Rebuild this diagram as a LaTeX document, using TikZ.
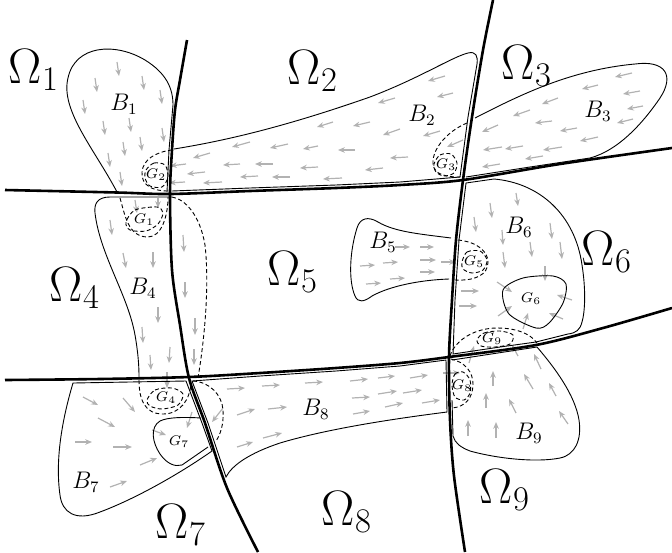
\documentclass[tikz,border=0pt]{standalone}
\usepackage{amsmath,amssymb}
\usepackage{tikz}
\usetikzlibrary{arrows.meta}

\begin{document}
\begin{tikzpicture}[x=0.5pt, y=-0.5pt,
  bnd/.style={line width=1.3pt},
  reg/.style={line width=0.45pt},
  gbd/.style={line width=0.45pt, dash pattern=on 2pt off 1.3pt},
  fld/.style={-{Stealth[length=3.4pt,width=2.8pt]}, gray!60, line width=0.6pt},
  om/.style={font=\fontsize{23}{26}\selectfont},
  bl/.style={font=\large},
  gl/.style={font=\fontsize{7}{8}\selectfont, inner sep=0pt}]
\useasboundingbox (0,0) rectangle (672,552);

% vector fields
\foreach \x/\y in {117/62, 95/78, 142/76, 160/90, 83/100, 103/121, 129/118, 162/128, 140/137, 123/142, 108/153, 120/172}
  \draw[fld] (\x,\y) -- ++(2,14);
\foreach \x/\y/\u/\v in {445/76/-17/5, 453/93/-16/4, 395/98/-17/5, 400/129/-17/6, 440/131/-17/5, 370/122/-17/4, 333/122/-16/5, 463/140/-16/7, 250/142/-18/5, 288/144/-18/4, 318/146/-15/3, 355/150/-17/0, 210/153/-17/5, 408/157/-18/1, 240/164/-17/1, 273/164/-18/0, 318/167/-18/1, 383/168/-18/2, 205/172/-18/2, 258/176/-18/1, 290/177/-18/0, 342/178/-19/1, 222/182/-19/1, 186/164/-16/2, 185/182/-16/1}
  \draw[fld] (\x,\y) -- ++(\u,\v);
\foreach \x/\y/\u/\v in {632/73/-17/4, 598/85/-16/4, 640/91/-17/3, 558/98/-16/6, 643/106/-16/3, 530/110/-17/6, 633/119/-16/4, 552/121/-17/2, 498/125/-16/7, 577/128/-17/3, 598/137/-18/4, 502/147/-19/3, 523/146/-18/3, 562/147/-19/3, 543/156/-18/3, 500/164/-18/3}
  \draw[fld] (\x,\y) -- ++(\u,\v);
\foreach \x/\y/\u/\v in {135/200/2/13, 158/198/0/10, 110/220/2/15, 183/235/1/17, 123/253/3/15, 153/252/0/16, 185/282/0/16, 158/307/0/16, 142/327/1/16, 195/318/0/17, 170/347/-1/16, 150/355/1/15, 194/349/0/16, 167/372/0/16}
  \draw[fld] (\x,\y) -- ++(\u,\v);
\foreach \x/\y/\u/\v in {395/247/15/0, 420/247/14/0, 360/266/15/-1, 383/263/15/-1, 420/260/16/0, 441/262/15/0, 366/284/15/-1, 390/279/15/-1, 420/272/15/0}
  \draw[fld] (\x,\y) -- ++(\u,\v);
\foreach \x/\y/\u/\v in {490/203/2/15, 516/193/2/13, 474/217/2/15, 502/230/1/15, 550/223/2/16, 530/242/2/15, 560/242/2/17, 503/252/2/16, 545/266/0/15, 497/282/15/10, 461/291/18/0, 459/306/18/0, 498/316/14/-10, 572/300/-15/-5, 563/319/-14/-6, 523/329/5/-16}
  \draw[fld] (\x,\y) -- ++(\u,\v);
\foreach \x/\y/\u/\v in {83/397/15/8, 123/398/12/14, 98/418/17/9, 75/442/17/0, 113/447/19/0, 140/465/17/-7, 110/487/17/-6, 152/430/14/5, 192/412/-5/16}
  \draw[fld] (\x,\y) -- ++(\u,\v);
\foreach \x/\y/\u/\v in {227/389/18/-1, 262/386/18/-1, 305/383/18/-1, 350/381/18/-2, 378/378/17/-2, 410/378/18/-3, 237/415/18/-6, 268/409/19/-2, 352/398/18/-1, 378/394/19/-3, 403/393/19/-3, 237/447/16/-5, 263/438/19/-5, 353/414/17/-3, 385/407/18/-4, 422/403/18/-3, 443/373/17/0, 223/408/-11/14}
  \draw[fld] (\x,\y) -- ++(\u,\v);
\foreach \x/\y/\u/\v in {468/436/0/-16, 496/438/0/-16, 486/408/0/-15, 493/386/0/-15, 469/363/5/-17, 518/356/-6/-11, 533/389/-9/-15, 516/413/-7/-14, 556/396/-7/-13, 568/424/-9/-13, 541/369/-7/-15}
  \draw[fld] (\x,\y) -- ++(\u,\v);

% regions B
\draw[reg] (117,192) .. controls (95,150) and (60,110) .. (68,78) .. controls (75,45) and (115,42) .. (145,60) .. controls (166,73) and (173,88) .. (173,105) -- (169,150) -- (167,192);
\draw[reg] (174,149) .. controls (230,140) and (290,125) .. (370,97) .. controls (420,78) and (452,57) .. (468,53) .. controls (476,51) and (478,56) .. (477,64) -- (468,117) -- (460,177) -- (400,182) -- (336,185) -- (250,188) -- (172,191);
\draw[reg] (475,118) .. controls (520,95) and (570,70) .. (635,64) .. controls (665,60) and (675,75) .. (660,98) .. controls (645,120) and (620,150) .. (590,158) -- (530,167) -- (466,177);
\draw[reg] (172,197) -- (110,197) .. controls (97,197) and (94,204) .. (95,213) .. controls (100,255) and (128,295) .. (135,335) .. controls (138,352) and (139,365) .. (139,377);
\draw[gbd] (172,197) .. controls (185,199) and (200,215) .. (205,245) .. controls (209,280) and (206,330) .. (198,378);
\draw[reg] (451,238) .. controls (420,234) and (395,232) .. (378,222) .. controls (368,216) and (360,218) .. (357,228) .. controls (350,250) and (348,280) .. (355,296) .. controls (358,303) and (364,302) .. (372,296) .. controls (390,286) and (420,280) .. (449,279);
\draw[reg] (466,183) -- (494,179) .. controls (540,183) and (575,215) .. (582,265) .. controls (586,290) and (585,312) .. (582,322) .. controls (580,330) and (576,333) .. (568,334) -- (536,342) -- (500,347) -- (453,354) -- (455,300) -- (459,240) -- cycle;
\draw[reg] (212,451) .. controls (185,470) and (140,497) .. (100,512) .. controls (75,522) and (62,512) .. (60,495) .. controls (55,460) and (62,420) .. (73,383) -- (186,381) -- (202,423) -- cycle;
\draw[reg] (201,418) .. controls (185,417) and (168,417) .. (160,421) .. controls (150,427) and (152,442) .. (160,454) .. controls (167,464) and (175,467) .. (182,465) -- (208,447);
\draw[reg] (447,412) .. controls (400,418) and (330,428) .. (280,443) .. controls (250,453) and (232,465) .. (226,477) -- (208,423) -- (192,381) -- (260,376) -- (336,371) -- (400,366) -- (446,360) -- cycle;
\draw[gbd] (193,381) .. controls (210,382) and (222,395) .. (223,410) .. controls (224,425) and (220,435) .. (216,441);
\draw[reg] (452,360) -- (537,347) .. controls (555,368) and (575,395) .. (579,420) .. controls (582,440) and (575,455) .. (560,458) .. controls (535,463) and (495,458) .. (470,451) .. controls (460,447) and (455,443) .. (453,436) -- (452,400);
\draw[reg] plot[smooth cycle] coordinates {(503,290) (523,278) (553,276) (566,284) (563,303) (549,323) (536,328) (509,314)};

% sets G
\draw[gbd] (120,198) .. controls (125,215) and (128,237) .. (148,237) .. controls (162,237) and (168,215) .. (168,197);
\draw[gbd] plot[smooth cycle] coordinates {(126,222) (135,210) (157,207) (163,213) (158,224) (146,231) (130,230)};
\draw[gbd] (172,150) .. controls (155,152) and (143,160) .. (142,172) .. controls (141,185) and (152,191) .. (168,191);
\draw[gbd] plot[smooth cycle] coordinates {(146,170) (154,163) (165,165) (168,177) (162,187) (150,186) (145,178)};
\draw[gbd] (467,123) .. controls (450,130) and (435,145) .. (433,160) .. controls (432,172) and (440,177) .. (460,177);
\draw[gbd] plot[smooth cycle] coordinates {(434,164) (440,155) (451,154) (457,163) (454,173) (444,176) (436,172)};
\draw[gbd] (139,380) .. controls (139,400) and (145,414) .. (163,414) .. controls (180,414) and (190,400) .. (191,383);
\draw[gbd] plot[smooth cycle] coordinates {(147,400) (155,390) (172,388) (183,394) (178,405) (162,409) (150,406)};
\draw[gbd] (458,240) .. controls (478,242) and (488,252) .. (488,262) .. controls (488,275) and (475,281) .. (455,280);
\draw[gbd] plot[smooth cycle] coordinates {(462,262) (467,252) (480,251) (487,260) (483,270) (472,273) (463,269)};
\draw[gbd] (451,359) .. controls (465,362) and (473,372) .. (473,384) .. controls (473,398) and (465,407) .. (452,408);
\draw[gbd] plot[smooth cycle] coordinates {(452,385) (455,374) (463,372) (470,380) (470,393) (464,400) (455,397)};
\draw[gbd] (450,356) .. controls (455,340) and (475,328) .. (497,328) .. controls (515,328) and (530,333) .. (537,343);
\draw[gbd] plot[smooth cycle] coordinates {(477,340) (484,333) (500,331) (513,335) (510,344) (495,347) (481,346)};

% boundaries of the subdomains
\draw[bnd] plot[smooth] coordinates {(187,40) (180,80) (175,110) (172,150) (170,195) (172,270) (180,325) (189,378) (205,423) (227,488) (258,552)};
\draw[bnd] plot[smooth] coordinates {(493,0) (483,50) (472,117) (463,180) (456,240) (452,300) (449,357) (450,420) (454,476) (465,552)};
\draw[bnd] plot[smooth] coordinates {(5,190) (117,192.5) (170,194) (250,191) (336,188) (400,185) (463,180) (560,164) (672,148)};
\draw[bnd] plot[smooth] coordinates {(5,380) (100,379) (189,377) (260,373) (336,368) (400,363) (449,357) (536,345) (603,328) (672,308)};

\node[om] (o1) at (34,70) {$\Omega_1$};
\node[om] (o2) at (313,71) {$\Omega_2$};
\node[om] (o3) at (527,66) {$\Omega_3$};
\node[om] (o4) at (75,288) {$\Omega_4$};
\node[om] (o5) at (293,272) {$\Omega_5$};
\node[om] (o6) at (607,252) {$\Omega_6$};
\node[om] (o7) at (181,525) {$\Omega_7$};
\node[om] (o8) at (347,512) {$\Omega_8$};
\node[om] (o9) at (505,490) {$\Omega_9$};

\node[bl] (b1) at (124,104) {$B_1$};
\node[bl] (b2) at (422,115) {$B_2$};
\node[bl] (b3) at (598,111) {$B_3$};
\node[bl] (b4) at (143,288) {$B_4$};
\node[bl] (b5) at (383,242) {$B_5$};
\node[bl] (b6) at (519,227) {$B_6$};
\node[bl] (b7) at (86,482) {$B_7$};
\node[bl] (b8) at (316,409) {$B_8$};
\node[bl] (b9) at (529,433) {$B_9$};

\node[gl] (g1) at (144,220) {$G_1$};
\node[gl] (g2) at (156,175) {$G_2$};
\node[gl] (g3) at (446,165) {$G_3$};
\node[gl] (g4) at (166,398) {$G_4$};
\node[gl] (g5) at (474,262) {$G_5$};
\node[gl] (g6) at (531,299) {$G_6$};
\node[gl] (g7) at (179,442) {$G_7$};
\node[gl] (g8) at (462,386) {$G_8$};
\node[gl] (g9) at (492,339) {$G_9$};
\end{tikzpicture}
\end{document}
